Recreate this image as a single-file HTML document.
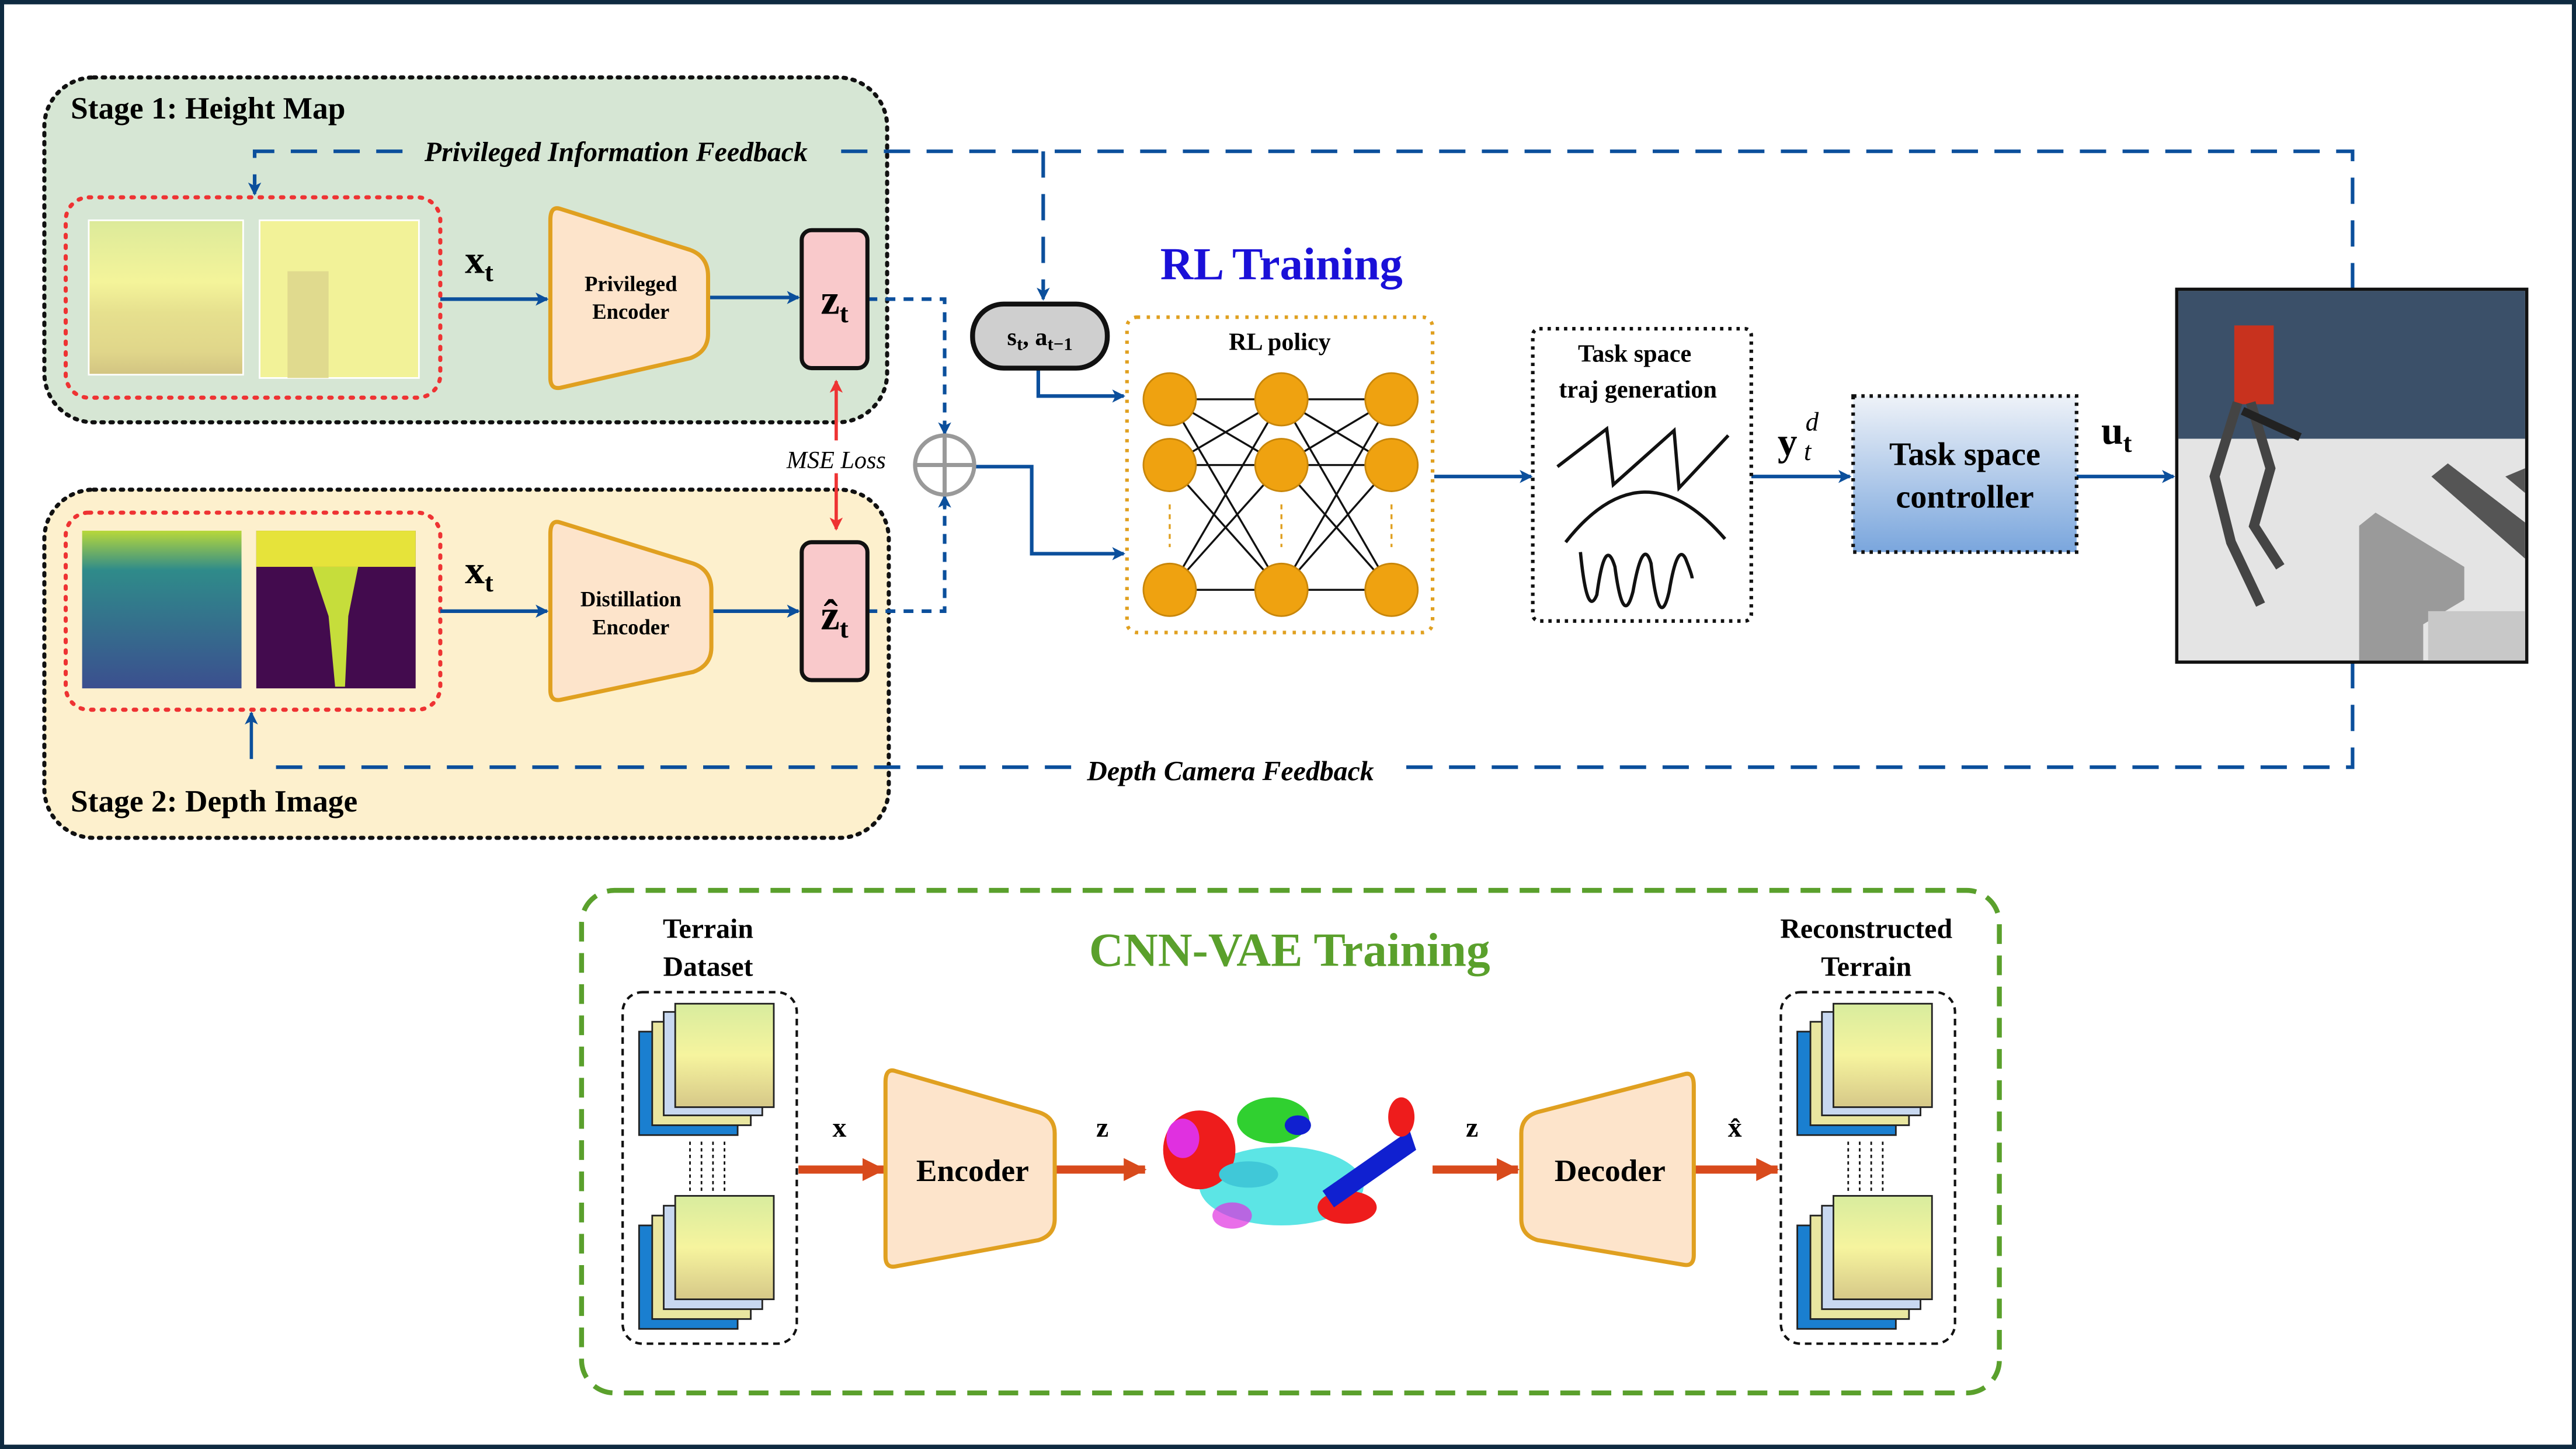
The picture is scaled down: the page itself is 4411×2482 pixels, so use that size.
<!DOCTYPE html>
<html><head><meta charset="utf-8"><style>
html,body{margin:0;padding:0;background:#fff}
svg{display:block}
text{font-family:"Liberation Serif",serif}
</style></head><body>
<svg width="4411" height="2482" viewBox="0 0 1568 882" xmlns="http://www.w3.org/2000/svg">
<defs>
<marker id="ab" markerWidth="8" markerHeight="8" refX="7" refY="4" orient="auto" markerUnits="userSpaceOnUse"><path d="M0,0 L8,4 L0,8 L2,4z" fill="#0b4f9c"/></marker>
<marker id="ar" markerWidth="8" markerHeight="8" refX="7" refY="4" orient="auto" markerUnits="userSpaceOnUse"><path d="M0,0 L8,4 L0,8 L2,4z" fill="#ee3333"/></marker>
<marker id="ao" markerWidth="14" markerHeight="14" refX="13" refY="7" orient="auto" markerUnits="userSpaceOnUse"><path d="M0,0 L14,7 L0,14z" fill="#d84a1c"/></marker>
<linearGradient id="cg" x1="0" y1="0" x2="0" y2="1"><stop offset="0" stop-color="#eef2f8"/><stop offset="1" stop-color="#7aa6dd"/></linearGradient>
<linearGradient id="h1" x1="0" y1="0" x2="0" y2="1"><stop offset="0" stop-color="#dcea9a"/><stop offset=".4" stop-color="#f4f49a"/><stop offset=".6" stop-color="#e6e08e"/><stop offset=".85" stop-color="#e0d68a"/><stop offset="1" stop-color="#d2c482"/></linearGradient>
<linearGradient id="d1" x1="0" y1="0" x2="0" y2="1"><stop offset="0" stop-color="#b8d83a"/><stop offset=".25" stop-color="#2f8b8a"/><stop offset="1" stop-color="#3b4f8f"/></linearGradient>
<linearGradient id="tile" x1="0" y1="0" x2="0" y2="1"><stop offset="0" stop-color="#d8ec9e"/><stop offset=".5" stop-color="#f6f49e"/><stop offset="1" stop-color="#d6c888"/></linearGradient>
</defs>
<rect x="1" y="1" width="1566" height="880" fill="#fff" stroke="#0e2a40" stroke-width="3"/>

<rect x="27" y="47" width="513" height="210" rx="30" fill="#d6e6d4" stroke="#111" stroke-width="2.5" stroke-dasharray="1.5 4" stroke-linecap="round"/>
<rect x="27" y="298" width="514" height="212" rx="30" fill="#fdf0cd" stroke="#111" stroke-width="2.5" stroke-dasharray="1.5 4" stroke-linecap="round"/>
<text x="43" y="72" font-size="19" font-weight="bold">Stage 1: Height Map</text>
<text x="43" y="494" font-size="19" font-weight="bold">Stage 2: Depth Image</text>

<g fill="none" stroke="#0b4f9c" stroke-width="2.2" stroke-dasharray="16 10">
<path d="M1432,176 V92 H505"/>
<path d="M245,92 H155 V112"/>
<path d="M635,92 V176"/>
<path d="M1432,403 V467 H846"/>
<path d="M652,467 H160"/>
<path d="M528,182 H575 V262" stroke-dasharray="6 5"/>
<path d="M528,372 H575 V304" stroke-dasharray="6 5"/>
</g>
<path d="M155,110 V118" stroke="#0b4f9c" stroke-width="2" marker-end="url(#ab)"/>
<path d="M635,170 V182" stroke="#0b4f9c" stroke-width="2" marker-end="url(#ab)"/>
<path d="M575,256 V264" stroke="#0b4f9c" stroke-width="2" marker-end="url(#ab)"/>
<path d="M575,310 V302" stroke="#0b4f9c" stroke-width="2" marker-end="url(#ab)"/>
<path d="M153,462 V434" stroke="#0b4f9c" stroke-width="2" marker-end="url(#ab)"/>
<text x="375" y="98" font-size="17" font-style="italic" font-weight="bold" text-anchor="middle">Privileged Information Feedback</text>
<text x="749" y="475" font-size="17" font-style="italic" font-weight="bold" text-anchor="middle">Depth Camera Feedback</text>

<rect x="40" y="120" width="228" height="122" rx="14" fill="none" stroke="#ee3333" stroke-width="2.5" stroke-dasharray="1.5 5" stroke-linecap="round"/>
<rect x="40" y="312" width="228" height="120" rx="14" fill="none" stroke="#ee3333" stroke-width="2.5" stroke-dasharray="1.5 5" stroke-linecap="round"/>
<rect x="54" y="134" width="94" height="94" fill="url(#h1)" stroke="#fff"/>
<rect x="158" y="134" width="97" height="96" fill="#f2f298" stroke="#fff"/>
<rect x="175" y="165" width="25" height="65" fill="#e0da8e"/>
<rect x="50" y="323" width="97" height="96" fill="url(#d1)"/>
<rect x="156" y="323" width="97" height="96" fill="#430b4e"/>
<rect x="156" y="323" width="97" height="22" fill="#e6e33a"/>
<path d="M190,345 H218 L212,375 L210,418 H204 L200,375z" fill="#c6dd3b"/>

<text x="283" y="166" font-size="24" font-weight="bold">x<tspan font-size="16" dy="5">t</tspan></text>
<text x="283" y="355" font-size="24" font-weight="bold">x<tspan font-size="16" dy="5">t</tspan></text>
<g stroke="#0b4f9c" stroke-width="2.2" fill="none" marker-end="url(#ab)">
<path d="M268,182 H333"/><path d="M268,372 H333"/>
<path d="M432,181 H486"/><path d="M434,372 H486"/>
<path d="M592,284 H628 V337 H684"/>
<path d="M632,224 V241 H684"/>
<path d="M873,290 H932"/>
<path d="M1066,290 H1126"/>
<path d="M1264,290 H1323"/>
</g>

<path d="M341,127 L420,152 Q431,156 431,168 L431,203 Q431,214 420,218 L341,236 Q335,237 335,230 L335,134 Q335,125 341,127z" fill="#fde4cb" stroke="#e0a020" stroke-width="2.5"/>
<text x="384" y="177" font-size="13" font-weight="bold" text-anchor="middle">Privileged</text>
<text x="384" y="194" font-size="13" font-weight="bold" text-anchor="middle">Encoder</text>
<path d="M341,318 L422,343 Q433,347 433,359 L433,394 Q433,405 422,409 L341,426 Q335,427 335,420 L335,325 Q335,316 341,318z" fill="#fde4cb" stroke="#e0a020" stroke-width="2.5"/>
<text x="384" y="369" font-size="13" font-weight="bold" text-anchor="middle">Distillation</text>
<text x="384" y="386" font-size="13" font-weight="bold" text-anchor="middle">Encoder</text>

<rect x="488" y="140" width="40" height="84" rx="6" fill="#f9c9cb" stroke="#111" stroke-width="2.5"/>
<text x="508" y="191" font-size="26" font-weight="bold" text-anchor="middle">z<tspan font-size="16" dy="5">t</tspan></text>
<rect x="488" y="330" width="40" height="84" rx="6" fill="#f9c9cb" stroke="#111" stroke-width="2.5"/>
<text x="508" y="383" font-size="26" font-weight="bold" text-anchor="middle">ẑ<tspan font-size="16" dy="5">t</tspan></text>
<path d="M509,262 V232" stroke="#ee3333" stroke-width="2" marker-end="url(#ar)"/>
<path d="M509,290 V322" stroke="#ee3333" stroke-width="2" marker-end="url(#ar)"/>
<path d="M509,262 V268 M509,288 V292" stroke="#ee3333" stroke-width="2"/>
<text x="509" y="285" font-size="15" font-style="italic" text-anchor="middle">MSE Loss</text>

<circle cx="575" cy="283" r="18" fill="#fff" stroke="#999" stroke-width="2.5"/>
<path d="M557,283 H593 M575,265 V301" stroke="#999" stroke-width="2.5"/>

<rect x="592" y="185" width="82" height="39" rx="19" fill="#cfcfcf" stroke="#111" stroke-width="3"/>
<text x="633" y="210" font-size="15" font-weight="bold" text-anchor="middle">s<tspan font-size="11" dy="3">t</tspan><tspan dy="-3">, a</tspan><tspan font-size="11" dy="3">t−1</tspan></text>

<text x="780" y="170" font-size="28" font-weight="bold" fill="#1a10d8" text-anchor="middle">RL Training</text>
<rect x="686" y="193" width="186" height="192" rx="6" fill="none" stroke="#e0a020" stroke-width="2.2" stroke-dasharray="2 4"/>
<text x="779" y="213" font-size="15" font-weight="bold" text-anchor="middle">RL policy</text>
<g stroke="#111" stroke-width="1.2" fill="none">
<path d="M712,243 L780,243 L712,283 L780,359 L712,243 L780,283 L712,359 L780,243 M712,283 L780,283 M712,359 L780,359 L712,283"/>
<path d="M780,243 L847,243 L780,283 L847,359 L780,243 L847,283 L780,359 L847,243 M780,283 L847,283 M780,359 L847,359 L780,283"/>
</g>
<g fill="#efa210" stroke="#c8860a">
<ellipse cx="712" cy="243" rx="16" ry="16"/><ellipse cx="712" cy="283" rx="16" ry="16"/><ellipse cx="712" cy="359" rx="16" ry="16"/>
<ellipse cx="780" cy="243" rx="16" ry="16"/><ellipse cx="780" cy="283" rx="16" ry="16"/><ellipse cx="780" cy="359" rx="16" ry="16"/>
<ellipse cx="847" cy="243" rx="16" ry="16"/><ellipse cx="847" cy="283" rx="16" ry="16"/><ellipse cx="847" cy="359" rx="16" ry="16"/>
</g>
<path d="M712,307 V333 M780,307 V333 M847,307 V333" stroke="#e0a020" stroke-width="1.2" stroke-dasharray="3 3"/>

<rect x="933" y="200" width="133" height="178" rx="4" fill="#fff" stroke="#111" stroke-width="2.2" stroke-dasharray="2 3"/>
<text x="995" y="220" font-size="15" font-weight="bold" text-anchor="middle">Task space</text>
<text x="997" y="242" font-size="15" font-weight="bold" text-anchor="middle">traj generation</text>
<g fill="none" stroke="#111" stroke-width="2">
<path d="M948,284 L978,261 L982,295 L1019,262 L1022,297 L1052,265"/>
<path d="M953,330 Q1000,270 1050,328"/>
<path d="M962,336 Q966,377 972,362 Q977,325 983,345 Q988,383 994,360 Q1000,326 1005,343 Q1010,386 1016,360 Q1021,330 1026,340 Q1030,350 1030,352"/>
</g>
<text x="1082" y="277" font-size="24" font-weight="bold">y</text>
<text x="1099" y="262" font-size="16" font-style="italic">d</text>
<text x="1098" y="280" font-size="16" font-style="italic">t</text>

<rect x="1128" y="241" width="136" height="95" fill="url(#cg)" stroke="#111" stroke-width="2.2" stroke-dasharray="2 3"/>
<text x="1196" y="283" font-size="20" font-weight="bold" text-anchor="middle">Task space</text>
<text x="1196" y="309" font-size="20" font-weight="bold" text-anchor="middle">controller</text>
<text x="1279" y="270" font-size="24" font-weight="bold">u<tspan font-size="16" dy="5">t</tspan></text>

<rect x="1325" y="176" width="213" height="227" fill="#d8d8d8" stroke="#111" stroke-width="2"/>
<rect x="1326" y="177" width="211" height="90" fill="#3b5069"/>
<rect x="1326" y="267" width="211" height="135" fill="#e4e4e4"/>
<path d="M1436,320 L1446,312 L1500,345 L1500,365 L1475,380 L1475,402 L1436,402z" fill="#9a9a9a"/>
<path d="M1478,372 H1537 V402 H1478z" fill="#c8c8c8"/>
<path d="M1480,290 L1490,282 L1537,318 L1537,340z" fill="#555"/>
<path d="M1525,290 L1537,285 L1537,300z" fill="#555"/>
<rect x="1360" y="198" width="24" height="48" fill="#c8321e"/>
<path d="M1362,245 L1348,290 L1358,330 L1376,368 M1370,245 L1382,285 L1372,320 L1388,345" stroke="#444" stroke-width="6" fill="none"/>
<path d="M1365,250 L1400,266" stroke="#222" stroke-width="5"/>

<rect x="354" y="542" width="863" height="306" rx="20" fill="none" stroke="#5aa02c" stroke-width="3" stroke-dasharray="12 7"/>
<text x="785" y="588" font-size="29" font-weight="bold" fill="#5aa02c" text-anchor="middle">CNN-VAE Training</text>
<text x="431" y="571" font-size="17" font-weight="bold" text-anchor="middle">Terrain</text>
<text x="431" y="594" font-size="17" font-weight="bold" text-anchor="middle">Dataset</text>
<text x="1136" y="571" font-size="17" font-weight="bold" text-anchor="middle">Reconstructed</text>
<text x="1136" y="594" font-size="17" font-weight="bold" text-anchor="middle">Terrain</text>
<rect x="379" y="604" width="106" height="214" rx="12" fill="none" stroke="#111" stroke-width="1.5" stroke-dasharray="4 3"/>
<rect x="1084" y="604" width="106" height="214" rx="12" fill="none" stroke="#111" stroke-width="1.5" stroke-dasharray="4 3"/>
<g id="stk">
<rect x="389" y="628" width="60" height="63" fill="#1a7fd0" stroke="#222"/>
<rect x="397" y="622" width="60" height="63" fill="#e9e6a0" stroke="#222"/>
<rect x="404" y="616" width="60" height="63" fill="#c8d8f0" stroke="#222"/>
<rect x="411" y="611" width="60" height="63" fill="url(#tile)" stroke="#222"/>
<rect x="389" y="746" width="60" height="63" fill="#1a7fd0" stroke="#222"/>
<rect x="397" y="740" width="60" height="63" fill="#e9e6a0" stroke="#222"/>
<rect x="404" y="734" width="60" height="63" fill="#c8d8f0" stroke="#222"/>
<rect x="411" y="728" width="60" height="63" fill="url(#tile)" stroke="#222"/>
<path d="M420,695 V726 M427,695 V726 M434,695 V726 M441,695 V726" stroke="#111" stroke-dasharray="2 2"/>
</g>
<use href="#stk" x="705"/>
<g stroke="#d84a1c" stroke-width="5" marker-end="url(#ao)" fill="none">
<path d="M486,712 H538"/><path d="M642,712 H697"/><path d="M872,712 H924"/><path d="M1032,712 H1082"/>
</g>
<text x="511" y="692" font-size="17" font-weight="bold" text-anchor="middle">x</text>
<text x="671" y="692" font-size="17" font-weight="bold" text-anchor="middle">z</text>
<text x="896" y="692" font-size="17" font-weight="bold" text-anchor="middle">z</text>
<text x="1056" y="692" font-size="17" font-weight="bold" text-anchor="middle">x̂</text>
<path d="M545,652 L632,677 Q642,680 642,690 L642,742 Q642,752 632,755 L545,771 Q539,772 539,765 L539,659 Q539,650 545,652z" fill="#fde4cb" stroke="#e0a020" stroke-width="2.5"/>
<text x="592" y="719" font-size="19" font-weight="bold" text-anchor="middle">Encoder</text>
<path d="M1025,654 L936,677 Q926,680 926,690 L926,742 Q926,752 936,755 L1025,770 Q1031,771 1031,764 L1031,661 Q1031,652 1025,654z" fill="#fde4cb" stroke="#e0a020" stroke-width="2.5"/>
<text x="980" y="719" font-size="19" font-weight="bold" text-anchor="middle">Decoder</text>
<g>
<ellipse cx="780" cy="722" rx="50" ry="24" fill="#40e0e0" opacity=".85"/>
<ellipse cx="730" cy="700" rx="22" ry="24" fill="#ee1c1c"/>
<ellipse cx="720" cy="693" rx="10" ry="12" fill="#e030e0"/>
<ellipse cx="775" cy="682" rx="22" ry="14" fill="#30d030"/>
<ellipse cx="820" cy="735" rx="18" ry="10" fill="#ee1c1c"/>
<path d="M805,725 L858,688 L862,700 L812,735z" fill="#1020d0"/>
<ellipse cx="853" cy="680" rx="8" ry="12" fill="#ee1c1c"/>
<ellipse cx="760" cy="715" rx="18" ry="8" fill="#40c8d8"/>
<ellipse cx="790" cy="685" rx="8" ry="6" fill="#1020d0"/>
<ellipse cx="750" cy="740" rx="12" ry="8" fill="#e030e0" opacity=".7"/>
</g>
</svg>
</body></html>
